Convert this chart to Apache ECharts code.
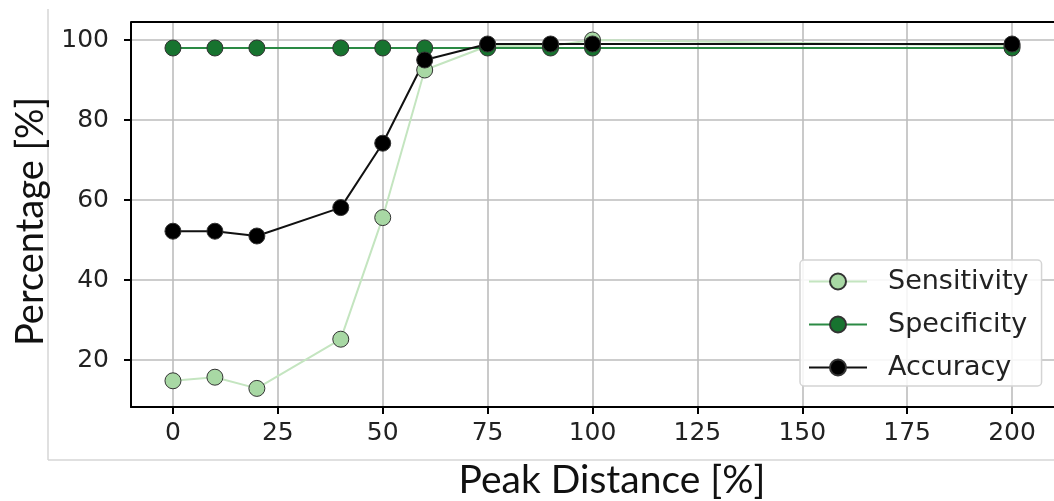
<!DOCTYPE html>
<html>
<head>
<meta charset="utf-8">
<script src="https://cdn.jsdelivr.net/npm/echarts@6/dist/echarts.min.js"></script>
<style>
  html, body { margin: 0; padding: 0; background: #fff; }
  #chart { width: 1054px; height: 501px; }
</style>
</head>
<body>
<div id="chart"></div>
<script>
// Detection scores versus peak distance
const peakDistance = [0, 10, 20, 40, 50, 60, 75, 90, 100, 200];
const sensitivity  = [14.8, 15.7, 12.9, 25.2, 55.6, 92.5, 98.5, 98.5, 100, 98.5];
const specificity  = [98, 98, 98, 98, 98, 98, 98, 98, 98, 98];
const accuracy     = [52.2, 52.2, 51.0, 58.1, 74.2, 95.0, 99.0, 99.0, 99.0, 99.0];

const xTicks = [0, 25, 50, 75, 100, 125, 150, 175, 200];
const yTicks = [20, 40, 60, 80, 100];

const pairs = ys => peakDistance.map((x, i) => [x, ys[i]]);

const tickFont = { fontFamily: 'DejaVu Sans', fontSize: 25, color: '#222' };

const chart = echarts.init(document.getElementById('chart'), null, { renderer: 'canvas' });

function lineSeries(name, ys, lineColor, faceColor) {
  return {
    name: name,
    type: 'line',
    data: pairs(ys),
    symbol: 'circle',
    symbolSize: 16,
    showAllSymbol: true,
    lineStyle: { color: lineColor, width: 2 },
    itemStyle: { color: faceColor, borderColor: '#333', borderWidth: 1 },
    emphasis: { disabled: true },
    animation: false
  };
}

chart.setOption({
  backgroundColor: '#fff',
  animation: false,
  grid: { left: 131, right: -2, top: 22, bottom: 94, containLabel: false },
  xAxis: {
    type: 'value',
    min: -10,
    max: 210,
    axisLine: { show: true, onZero: false, lineStyle: { color: '#000', width: 2 } },
    axisTick: { show: true, length: 7, lineStyle: { color: '#000', width: 2 }, customValues: xTicks },
    axisLabel: Object.assign({ margin: 14, customValues: xTicks }, tickFont),
    splitLine: { show: true, lineStyle: { color: '#bdbdbd', width: 1.6 } }
  },
  yAxis: {
    type: 'value',
    min: 8.25,
    max: 104.5,
    axisLine: { show: true, onZero: false, lineStyle: { color: '#000', width: 2 } },
    axisTick: { show: true, length: 7, lineStyle: { color: '#000', width: 2 }, customValues: yTicks },
    axisLabel: Object.assign({ margin: 22, customValues: yTicks }, tickFont),
    splitLine: { show: true, lineStyle: { color: '#bdbdbd', width: 1.6 } }
  },
  legend: {
    left: 800,
    top: 260,
    orient: 'vertical',
    itemWidth: 58,
    itemHeight: 20,
    itemGap: 16,
    padding: [8, 13, 5, 8],
    backgroundColor: 'rgba(255,255,255,0.85)',
    borderColor: '#d4d4d4',
    borderWidth: 1.5,
    borderRadius: 4,
    textStyle: { fontFamily: 'DejaVu Sans', fontSize: 27, lineHeight: 26, color: '#222', padding: [0, 0, 0, 16] },
    data: ['Sensitivity', 'Specificity', 'Accuracy']
  },
  graphic: [
    // top frame line of the plot area
    { type: 'line', shape: { x1: 131, y1: 22, x2: 1054, y2: 22 }, style: { stroke: '#000', lineWidth: 2 }, z: 10 },
    // light frame around the figure
    { type: 'line', shape: { x1: 48, y1: 9, x2: 48, y2: 460 }, style: { stroke: '#d6d6d6', lineWidth: 1.5 } },
    { type: 'line', shape: { x1: 48, y1: 460, x2: 1054, y2: 460 }, style: { stroke: '#d6d6d6', lineWidth: 1.5 } },
    {
      type: 'text', x: 612, y: 461,
      style: { text: 'Peak Distance [%]', fontFamily: 'Lato', fontSize: 39, fill: '#111', align: 'center', verticalAlign: 'top' }
    },
    {
      type: 'text', x: 12, y: 346, rotation: Math.PI / 2,
      style: { text: 'Percentage [%]', fontFamily: 'Lato', fontSize: 38, fill: '#111', verticalAlign: 'top' }
    }
  ],
  series: [
    lineSeries('Sensitivity', sensitivity, '#c4e5c0', '#a8d8a4'),
    lineSeries('Specificity', specificity, '#2b8a44', '#17732f'),
    lineSeries('Accuracy', accuracy, '#111', '#000')
  ]
});
</script>
</body>
</html>
